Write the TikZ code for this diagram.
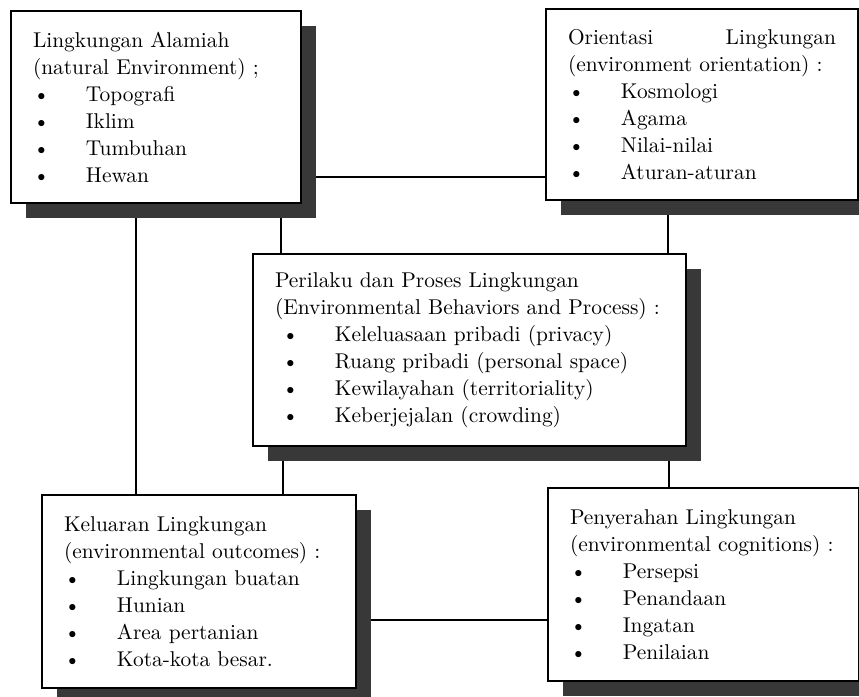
\documentclass[tikz,border=0pt]{standalone}
\usetikzlibrary{shadows,backgrounds}
\newcommand{\butir}[1]{\makebox[26.5pt][l]{\textbullet}#1}
\newcommand{\butirm}[1]{\hspace*{3.5pt}\makebox[26.5pt][l]{\textbullet}#1}
\begin{document}
\begin{tikzpicture}[x=0.5pt,y=-0.5pt,
  kotak/.style={draw, line width=1pt, fill=white, anchor=north west, align=left,
    inner xsep=11pt, inner ysep=0pt, font=\fontsize{10.7}{13.5}\selectfont,
    drop shadow={shadow xshift=7.5pt, shadow yshift=-7.5pt, fill=black!78, opacity=1}},
  garis/.style={line width=0.7pt}]
\path[use as bounding box, clip] (0,0) rectangle (859,697);
\node[kotak, text width=123pt, minimum height=96pt] (alam) at (10,10)
  {Lingkungan Alamiah\\(natural Environment) ;\\\butir{Topografi}\\\butir{Iklim}\\\butir{Tumbuhan}\\\butir{Hewan}\\[3pt]};
\node[kotak, text width=134pt, minimum height=95.5pt] (orient) at (545,8)
  {Orientasi\hspace{0pt plus 1filll}Lingkungan\\(environment orientation) :\\\butir{Kosmologi}\\\butir{Agama}\\\butir{Nilai-nilai}\\\butir{Aturan-aturan}};
\node[kotak, text width=194.5pt, minimum height=96pt] (perilaku) at (252,253)
  {Perilaku dan Proses Lingkungan\\(Environmental Behaviors and Process) :\\\butirm{Keleluasaan pribadi (privacy)}\\\butirm{Ruang pribadi (personal space)}\\\butirm{Kewilayahan (territoriality)}\\\butirm{Keberjejalan (crowding)}};
\node[kotak, text width=135pt, minimum height=96.5pt] (keluaran) at (41,494)
  {Keluaran Lingkungan\\(environmental outcomes) :\\\butir{Lingkungan buatan}\\\butir{Hunian}\\\butir{Area pertanian}\\\butir{Kota-kota besar.}};
\node[kotak, text width=133.5pt, minimum height=96.5pt] (penyerahan) at (547,487)
  {Penyerahan Lingkungan\\(environmental cognitions) :\\\butir{Persepsi}\\\butir{Penandaan}\\\butir{Ingatan}\\\butir{Penilaian}};
\begin{scope}[on background layer]
\fill[white] (0,0) rectangle (859,697);
\draw[garis] ([yshift=12pt]orient.south west) -- ([yshift=12pt]orient.south west -| alam.east);
\draw[garis] ([xshift=63pt]alam.south west) -- ([xshift=63pt]alam.south west |- keluaran.north);
\draw[garis] ([xshift=14.5pt]perilaku.north west) -- ([xshift=14.5pt]perilaku.north west |- alam.south);
\draw[garis] ([xshift=-9.5pt]perilaku.north east) -- ([xshift=-9.5pt]perilaku.north east |- orient.south);
\draw[garis] ([xshift=15.5pt]perilaku.south west) -- ([xshift=15.5pt]perilaku.south west |- keluaran.north);
\draw[garis] ([xshift=-9pt]perilaku.south east) -- ([xshift=-9pt]perilaku.south east |- penyerahan.north);
\draw[garis] ([yshift=31pt]penyerahan.south west) -- ([yshift=31pt]penyerahan.south west -| keluaran.east);
\end{scope}
\end{tikzpicture}
\end{document}
